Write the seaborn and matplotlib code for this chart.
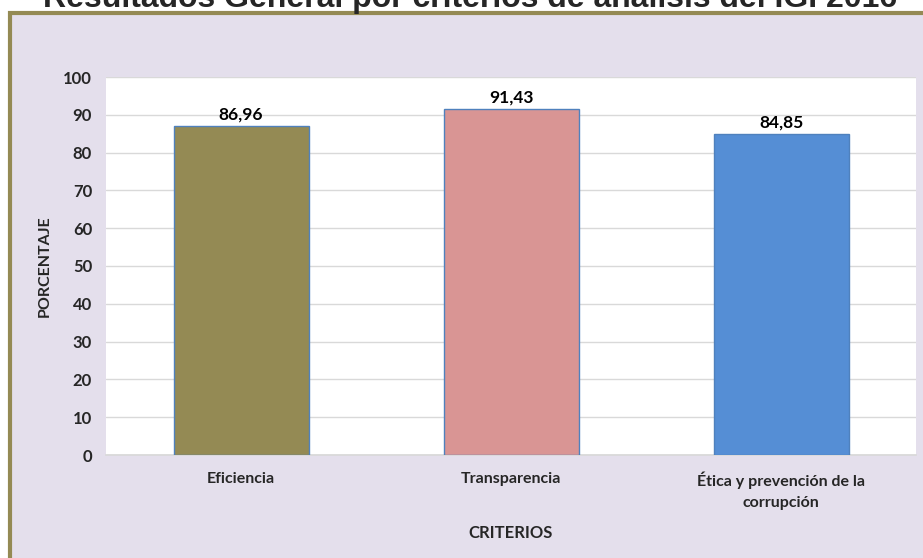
"""
Resultados generales por criterios de analisis del IGI.
"""
import matplotlib
matplotlib.use("Agg")
import matplotlib.pyplot as plt
from matplotlib.patches import Rectangle
import pandas as pd
import seaborn as sns

# Datos
criterios = ["Eficiencia", "Transparencia", "Ética y prevención de la\ncorrupción"]
porcentajes = [86.96, 91.43, 84.85]
etiquetas = ["86,96", "91,43", "84,85"]
colores = ["#948A54", "#D99594", "#558ED5"]
yticks = [0, 10, 20, 30, 40, 50, 60, 70, 80, 90, 100]

sns.set_theme(style="white")
plt.rcParams["font.family"] = ["Lato", "DejaVu Sans"]

df = pd.DataFrame({"criterio": criterios, "porcentaje": porcentajes})

fig = plt.figure(figsize=(9.23, 5.58), dpi=100, facecolor="white")
W, H = 923, 558

# Marco de fondo (lavanda con borde oliva)
fig.patches.append(Rectangle((9.5 / W, -0.1), 1.2, 1 - 12.5 / H + 0.1,
                             transform=fig.transFigure, facecolor="#E4DFEC",
                             edgecolor="#948A54", linewidth=3, zorder=-5))

ax = fig.add_axes([106 / W, 1 - 455 / H, 810 / W, 378 / H])
ax.set_zorder(2)
ax.set_facecolor("white")

sns.barplot(data=df, x="criterio", y="porcentaje", hue="criterio",
            palette=colores, saturation=1, legend=False, width=0.5, ax=ax,
            edgecolor="#4F81BD", linewidth=1.0, zorder=3)

ax.set_ylim(0, 100)
ax.set_yticks(yticks)
ax.yaxis.grid(True, color="#D9D9D9", linewidth=1, zorder=0)
ax.set_axisbelow(True)
for s in ax.spines.values():
    s.set_visible(False)
ax.spines["bottom"].set_visible(True)
ax.spines["bottom"].set_color("#D9D9D9")
ax.tick_params(axis="y", length=0, labelsize=12, pad=10)
ax.tick_params(axis="x", length=0, labelsize=11.5, pad=12)
for lbl in ax.get_yticklabels() + ax.get_xticklabels():
    lbl.set_fontweight("bold")
    lbl.set_linespacing(1.6)

for i, (v, t) in enumerate(zip(porcentajes, etiquetas)):
    ax.text(i, v + 1.0, t, ha="center", va="bottom", fontsize=12.5,
            fontweight="bold", color="black")

ax.set_ylabel("PORCENTAJE", fontsize=11.5, fontweight="bold", labelpad=8)
ax.set_xlabel("CRITERIOS", fontsize=12, fontweight="bold", labelpad=11)

fig.text(470 / W, 1 - 7 / H, "Resultados General por criterios de análisis del IGI 2016",
         ha="center", va="baseline", fontsize=23, fontweight="bold",
         family=["Liberation Sans", "DejaVu Sans"], zorder=5)

fig.savefig("out.png", dpi=100)
